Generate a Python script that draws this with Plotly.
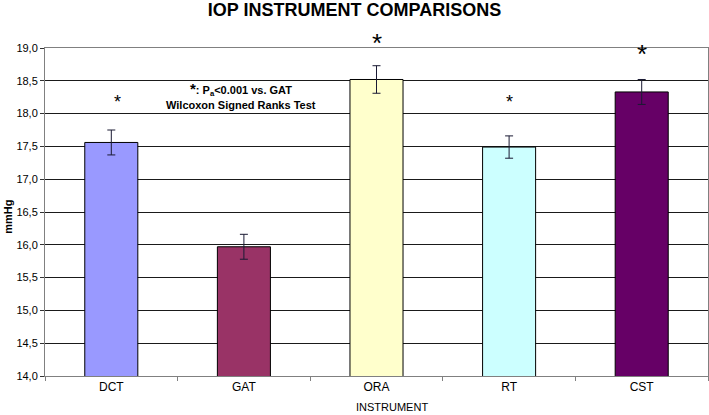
import plotly.graph_objects as go

# Données
instruments = ["DCT", "GAT", "ORA", "RT", "CST"]
iop_means = [17.56, 15.97, 18.52, 17.49, 18.33]
iop_errors = [0.19, 0.19, 0.21, 0.17, 0.19]
bar_colors = ["#9999FF", "#993366", "#FFFFCC", "#CCFFFF", "#660066"]
y_ticks = [14.0, 14.5, 15.0, 15.5, 16.0, 16.5, 17.0, 17.5, 18.0, 18.5, 19.0]
y_min, y_max = 14.0, 19.0

# Astérisques de significativité (instrument, hauteur)
star_instruments = ["DCT", "ORA", "RT", "CST"]
star_levels = [18.24, 19.17, 18.24, 19.0]

# Style des astérisques : taille et petit décalage horizontal (en catégories)
star_sizes = {"DCT": 18, "ORA": 26, "RT": 18, "CST": 26}
star_nudge = {"DCT": 0.045}

fig = go.Figure()
fig.add_trace(go.Bar(
    x=instruments, y=iop_means, width=0.4,
    marker=dict(color=bar_colors, line=dict(color="#000000", width=1)),
    error_y=dict(type="data", array=iop_errors, color="#1a1a33", thickness=1, width=4),
    showlegend=False, hoverinfo="skip",
))

# Astérisques (en coordonnées papier pour pouvoir dépasser le haut de l'axe)
for name, level in zip(star_instruments, star_levels):
    size = star_sizes[name]
    fig.add_annotation(x=instruments.index(name) + star_nudge.get(name, 0),
                       y=(level - y_min) / (y_max - y_min),
                       xref="x", yref="paper", text="*", showarrow=False,
                       yanchor="middle", yshift=-size * 0.22,
                       font=dict(size=size, color="#000000", family="Liberation Sans"))

# Légende statistique
legend_font = dict(size=11, color="#000000", family="Liberation Sans")
fig.add_annotation(x=0.296, y=0.875, xref="paper", yref="paper", showarrow=False,
                   xanchor="center", yanchor="middle",
                   text="<b><span style='font-size:15px'>*</span>: P<sub>a</sub>&lt;0.001 vs. GAT</b>",
                   font=legend_font)
fig.add_annotation(x=0.296, y=0.826, xref="paper", yref="paper", showarrow=False,
                   xanchor="center", yanchor="middle",
                   text="<b>Wilcoxon Signed Ranks Test</b>", font=legend_font)

# Titres d'axes
fig.add_annotation(x=-0.056, y=0.485, xref="paper", yref="paper", showarrow=False,
                   text="<b>mmHg</b>", textangle=-90, xanchor="center", yanchor="middle",
                   font=dict(size=11, color="#000000", family="Liberation Sans"))
fig.add_annotation(x=0.523, y=-0.095, xref="paper", yref="paper", showarrow=False,
                   text="INSTRUMENT", xanchor="center", yanchor="middle",
                   font=dict(size=11, color="#000000", family="Liberation Sans"))

fig.update_xaxes(type="category", showgrid=False, showline=True, linecolor="#808080", linewidth=1,
                 mirror=True, ticks="outside", tickson="boundaries", ticklen=4, tickcolor="#808080",
                 automargin=False,
                 tickfont=dict(size=12, color="#000000", family="Liberation Sans"))
fig.update_yaxes(range=[y_min, y_max], tickvals=y_ticks, tickformat=".1f", showgrid=True,
                 gridcolor="#1a1a1a", gridwidth=1, showline=True, linecolor="#808080", linewidth=1,
                 mirror=True, ticks="outside", ticklen=4, tickcolor="#333333", zeroline=False,
                 automargin=False,
                 tickfont=dict(size=11, color="#000000", family="Liberation Sans"))

fig.update_layout(
    width=709, height=415, separators=",.",
    margin=dict(l=45, r=1, t=48, b=39),
    paper_bgcolor="white", plot_bgcolor="white",
    title=dict(text="<b>IOP INSTRUMENT COMPARISONS</b>", x=0.5, xanchor="center",
               y=0.976, yanchor="middle", yref="container", automargin=False,
               font=dict(size=18, color="#000000", family="Liberation Sans")),
)

# La marge par défaut du <body> décale la figure de 8 px : on la supprime
fig.write_html("out.html", config={"displayModeBar": False},
               post_script="document.body.style.margin='0px';")
